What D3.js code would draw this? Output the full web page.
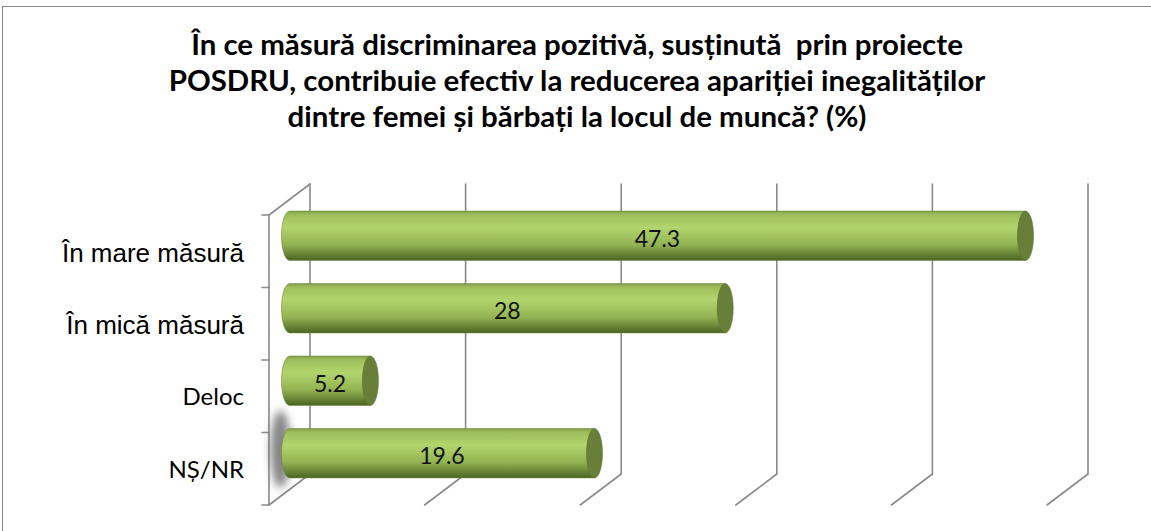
<!DOCTYPE html>
<html>
<head>
<meta charset="utf-8">
<script src="https://cdn.jsdelivr.net/npm/d3@7"></script>
<style>
  html, body { margin: 0; padding: 0; background: #fff; }
  svg { display: block; }
  .title text { white-space: pre; }
</style>
</head>
<body>
<div id="chart"></div>
<script>
// date
const categories = ['În mare măsură', 'În mică măsură', 'Deloc', 'NȘ/NR'];
const values = [47.3, 28, 5.2, 19.6];
const titleLines = [
  'În ce măsură discriminarea pozitivă, susținută  prin proiecte',
  'POSDRU, contribuie efectiv la reducerea apariției inegalităților',
  'dintre femei și bărbați la locul de muncă? (%)'
];
const xTicks = [0, 10, 20, 30, 40, 50];

const W = 1151, H = 531;
const svg = d3.select('#chart').append('svg')
  .attr('width', W).attr('height', H);

const defs = svg.append('defs');
const grad = defs.append('linearGradient')
  .attr('id', 'cyl').attr('x1', 0).attr('y1', 0).attr('x2', 0).attr('y2', 1);
[[0, '#829f4a'], [0.07, '#9cbd5b'], [0.33, '#b3d56d'], [0.68, '#93b452'], [1, '#4b6424']]
  .forEach(([o, c]) => grad.append('stop').attr('offset', o).attr('stop-color', c));
defs.append('filter').attr('id', 'blur').attr('x', '-100%').attr('y', '-50%')
  .attr('width', '300%').attr('height', '200%')
  .append('feGaussianBlur').attr('stdDeviation', 4);

// chenarul zonei graficului
svg.append('path')
  .attr('d', `M2.5,${H} L2.5,6.5 L${W},6.5`)
  .attr('fill', 'none').attr('stroke', '#868686').attr('stroke-width', 1);

// titlu
const title = svg.append('g').attr('class', 'title')
  .attr('font-family', 'Lato, "Open Sans", sans-serif')
  .attr('font-weight', 700).attr('fill', '#000');
const tEls = title.selectAll('text').data(titleLines).join('text')
  .attr('x', 577).attr('y', (d, i) => 55 + i * 36)
  .attr('xml:space', 'preserve')
  .attr('text-anchor', 'middle').attr('font-size', 30).text(d => d);
// ajustam marimea ca randul 2 sa aiba ~817px
const w2 = tEls.nodes()[1].getComputedTextLength();
tEls.attr('font-size', 30 * 817 / w2);

// scale (plan frontal)
const depth = { dx: 41, dy: -31 };
const x = d3.scaleLinear().domain([0, 50]).range([269, 1047]);
const y = d3.scaleBand().domain(categories).range([215, 505])
  .paddingInner(0.32).paddingOuter(0.16);
const yTop = y.range()[0], yBot = y.range()[1];

const grid = svg.append('g').attr('stroke', '#8a8a8a').attr('stroke-width', 1.6)
  .attr('fill', 'none').attr('stroke-linecap', 'round');

// perete lateral stang
grid.append('line').attr('x1', x(0)).attr('y1', yTop).attr('x2', x(0)).attr('y2', yBot);
grid.append('line').attr('x1', x(0)).attr('y1', yTop)
  .attr('x2', x(0) + depth.dx).attr('y2', yTop + depth.dy);
const bounds = d3.range(categories.length + 1).map(i => yTop + i * y.step());
grid.selectAll('.tk').data(bounds).join('line').attr('class', 'tk')
  .attr('x1', x(0) - 7).attr('x2', x(0)).attr('y1', d => d).attr('y2', d => d);

// linii de grila pe peretele din spate + podea
grid.selectAll('.gv').data(xTicks).join('line').attr('class', 'gv')
  .attr('x1', d => x(d) + depth.dx).attr('x2', d => x(d) + depth.dx)
  .attr('y1', yTop + depth.dy).attr('y2', yBot + depth.dy);
grid.selectAll('.gf').data(xTicks).join('line').attr('class', 'gf')
  .attr('x1', d => x(d) + depth.dx).attr('y1', yBot + depth.dy)
  .attr('x2', d => x(d)).attr('y2', yBot);

// etichete categorii
svg.append('g').selectAll('text').data(categories).join('text')
  .attr('x', 244)
  .attr('y', (d, i) => y(d) + y.bandwidth() / 2 + (i < 2 ? 10.5 : 9))
  .attr('text-anchor', 'end')
  .attr('font-family', (d, i) => i < 2 ? '"Liberation Sans", Arial, sans-serif' : 'Lato, sans-serif')
  .attr('font-size', (d, i) => i < 2 ? 26 : 24)
  .attr('fill', '#000')
  .text(d => d);

// cilindri
const mid = { dx: depth.dx / 2, dy: depth.dy / 2 };
const rx = 8, ry = y.bandwidth() / 2;
const bars = svg.append('g');
const rows = categories.map((c, i) => ({
  c, v: values[i],
  x0: x(0) + mid.dx, x1: x(values[i]) + mid.dx,
  cy: y(c) + y.bandwidth() / 2 + mid.dy
}));

// umbra de langa ultimul cilindru
const last = rows[rows.length - 1];
bars.append('ellipse')
  .attr('cx', last.x0 - 9).attr('cy', last.cy - 4)
  .attr('rx', rx + 2).attr('ry', ry + 14)
  .attr('fill', '#666').attr('opacity', 0.8).attr('filter', 'url(#blur)');

const g = bars.selectAll('g.bar').data(rows).join('g').attr('class', 'bar');
g.append('path')
  .attr('d', d => `M${d.x0},${d.cy - ry} L${d.x1},${d.cy - ry} L${d.x1},${d.cy + ry} L${d.x0},${d.cy + ry}` +
    ` A${rx},${ry} 0 0 1 ${d.x0},${d.cy - ry} Z`)
  .attr('fill', 'url(#cyl)')
  .attr('stroke', '#6f8a3c').attr('stroke-width', 0.6);
g.append('ellipse')
  .attr('cx', d => d.x1).attr('cy', d => d.cy)
  .attr('rx', rx).attr('ry', ry)
  .attr('fill', '#687f3a').attr('stroke', '#5d7333').attr('stroke-width', 0.6);

// valori
g.append('text')
  .attr('x', d => (d.x0 + d.x1) / 2)
  .attr('y', d => d.cy + 11)
  .attr('text-anchor', 'middle')
  .attr('font-family', 'Lato, sans-serif')
  .attr('font-size', 23)
  .attr('fill', '#111')
  .text(d => d.v);
</script>
</body>
</html>
